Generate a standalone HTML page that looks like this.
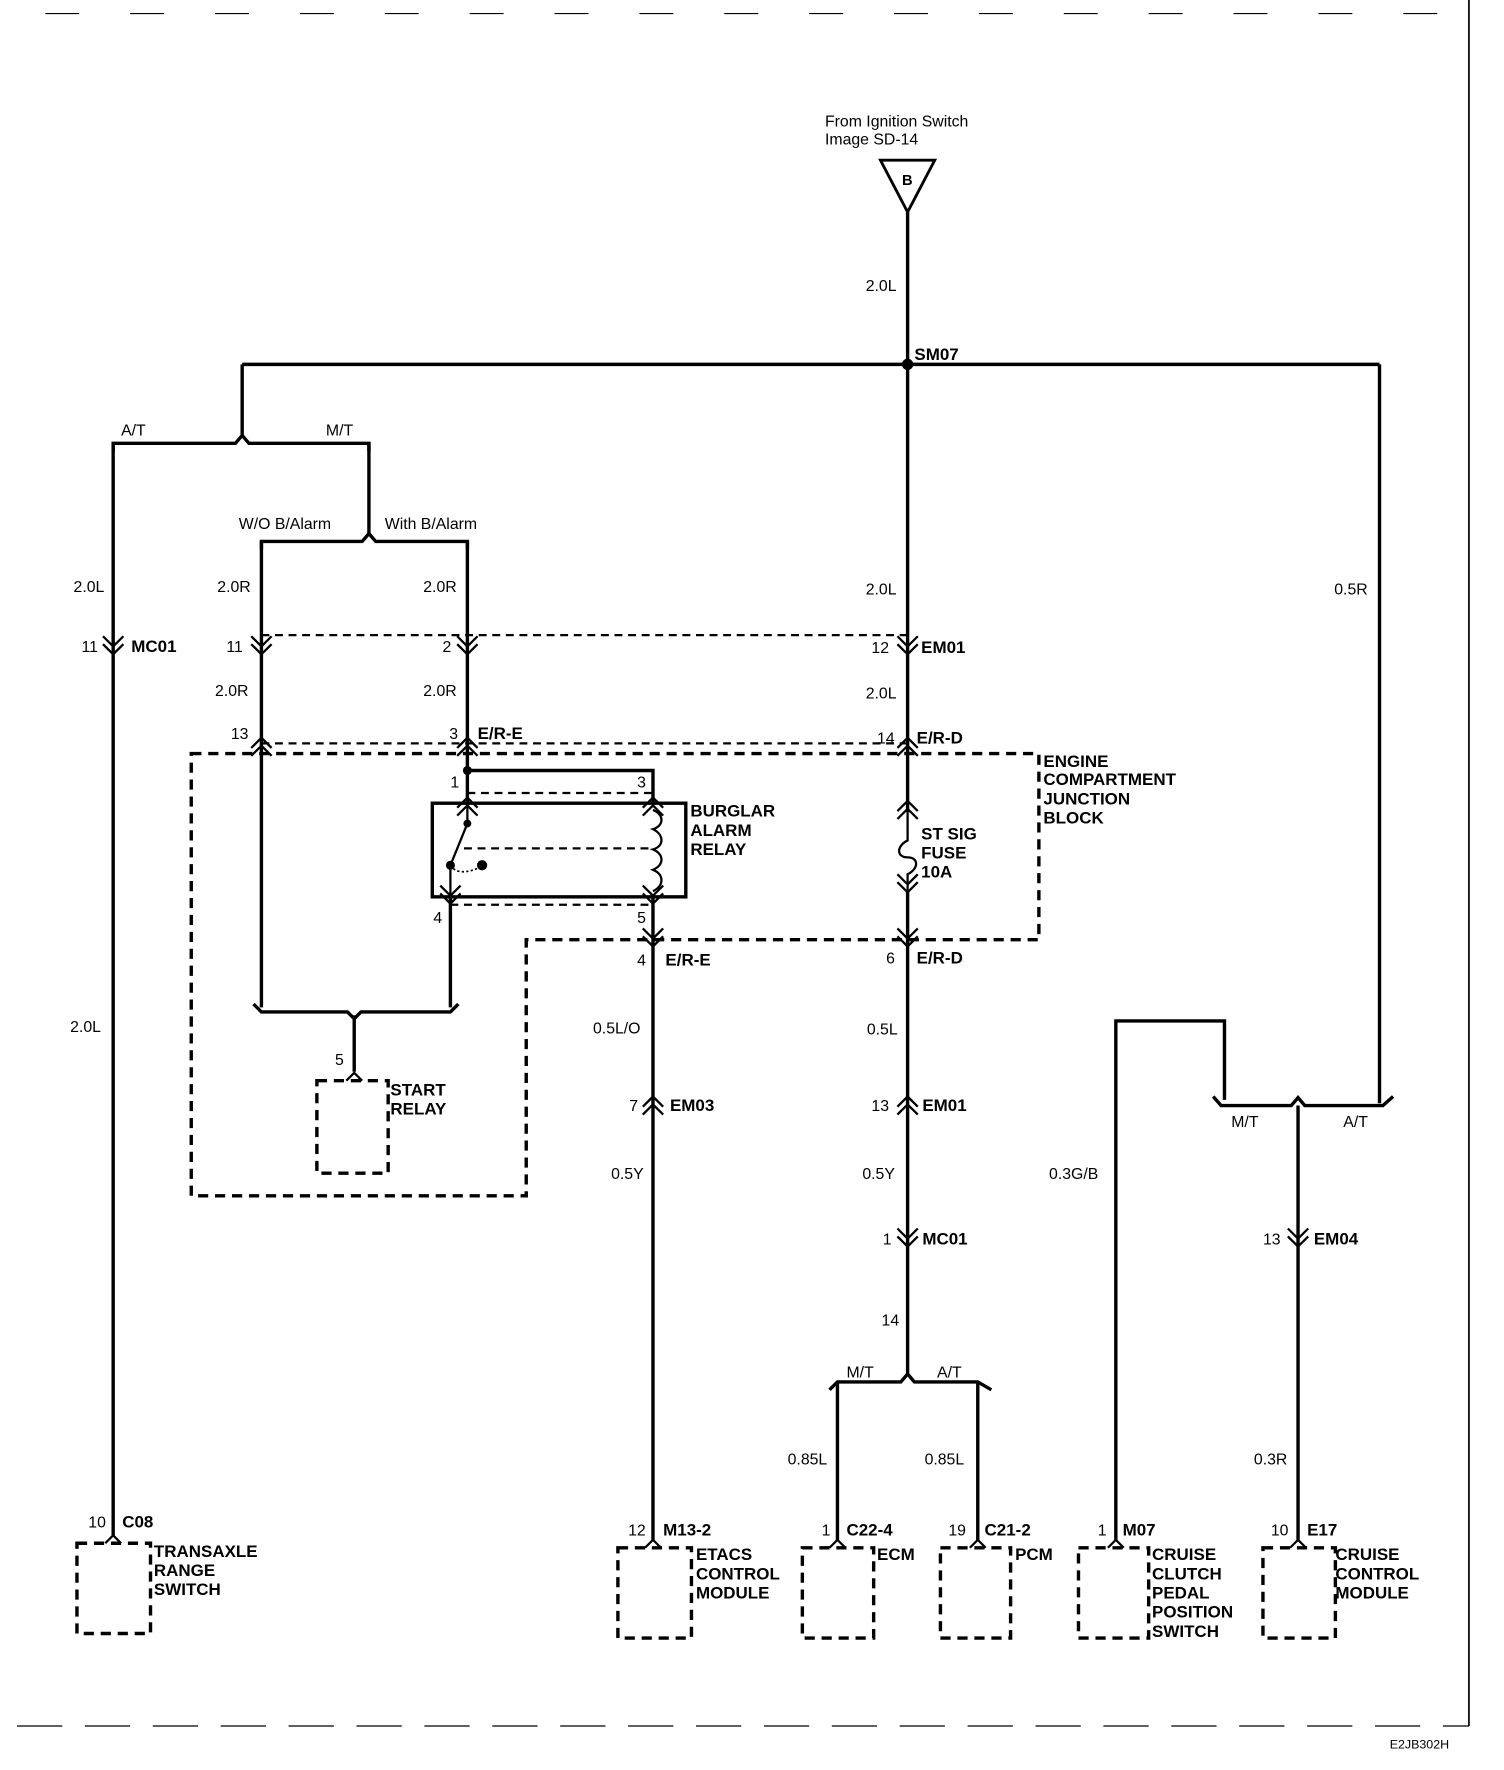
<!DOCTYPE html>
<html><head><meta charset="utf-8"><style>
html,body{margin:0;padding:0;background:#fff;}
svg{display:block;}
text{font-family:"Liberation Sans",sans-serif;font-size:14px;fill:#000;}
.b{font-weight:bold;font-size:15px;}
</style></head><body>
<svg width="1504" height="1770" viewBox="0 0 1329 1569" preserveAspectRatio="none" xmlns="http://www.w3.org/2000/svg">
<defs>
<g id="dn"><path d="M-9,-8 L0,1 L9,-8 M-9,-1 L0,8 L9,-1" fill="none" stroke="#000" stroke-width="2"/></g>
<g id="up"><path d="M-9,8 L0,-1 L9,8 M-9,1 L0,-8 L9,1" fill="none" stroke="#000" stroke-width="2"/></g>
</defs>
<g stroke="#000" fill="none">
<line x1="1298" y1="0" x2="1298" y2="1530" stroke-width="1.5"/>
<line x1="15" y1="1530" x2="1298" y2="1530" stroke-width="1.2" stroke-dasharray="40,20"/>
<line x1="40" y1="12" x2="1290" y2="12" stroke-width="1" stroke-dasharray="30,45"/>
<g stroke-width="3">
<path d="M778,142 L826,142 L802,188 Z" stroke-width="2.5"/>
<line x1="802" y1="188" x2="802" y2="565"/>
<line x1="214" y1="323" x2="1219" y2="323"/>
<line x1="214" y1="323" x2="214" y2="388"/>
<path d="M100,400 L100,393 L208,393 L214,386 L220,393 L326,393 L326,400"/>
<line x1="100" y1="393" x2="100" y2="1362"/>
<line x1="326" y1="393" x2="326" y2="474"/>
<path d="M231,487 L231,480 L320,480 L326,473 L332,480 L413,480 L413,487"/>
<line x1="231" y1="480" x2="231" y2="893"/>
<line x1="413" y1="480" x2="413" y2="712"/>
<path d="M413,683 L577,683 L577,712"/>
<rect x="382" y="712" width="224" height="83"/>
<line x1="398" y1="795" x2="398" y2="893"/>
<path d="M224,890 L231,897 L307,897 L313,903 L319,897 L398,897 L405,890"/>
<line x1="313" y1="900" x2="313" y2="950"/>
<line x1="577" y1="795" x2="577" y2="1365"/>
<line x1="802" y1="565" x2="802" y2="720"/>
<line x1="802" y1="790" x2="802" y2="1220"/>
<path d="M733,1232 L740,1225 L796,1225 L802,1218 L808,1225 L864,1225 L876,1232"/>
<line x1="740" y1="1225" x2="740" y2="1365"/>
<line x1="864" y1="1225" x2="864" y2="1365"/>
<line x1="1219" y1="323" x2="1219" y2="978"/>
<path d="M1072,972 L1079,980 L1141,980 L1147,973 L1153,980 L1222,980 L1231,972"/>
<path d="M986,1365 L986,905 L1082,905 L1082,975"/>
<line x1="1147" y1="980" x2="1147" y2="1365"/>
</g>
<path d="M802,720 L802,745 C792,750 792,760 802,760 C812,760 812,770 802,775 L802,790" stroke-width="2"/>
<g stroke-width="2" stroke-dasharray="7,5">
<line x1="231" y1="563" x2="802" y2="563"/>
<line x1="231" y1="659" x2="802" y2="659"/>
<path d="M169,668 L918,668 L918,833 L465,833 L465,1060 L169,1060 Z" stroke-width="3" stroke-dasharray="9,6"/>
<line x1="413" y1="703" x2="577" y2="703"/>
<line x1="410" y1="752" x2="577" y2="752"/>
<line x1="398" y1="802" x2="577" y2="802"/>
</g>
<g stroke-width="3" stroke-dasharray="9,6">
<rect x="280" y="958" width="63" height="82"/>
<rect x="68" y="1368" width="65" height="80"/>
<rect x="546" y="1372" width="65" height="80"/>
<rect x="709" y="1372" width="63" height="80"/>
<rect x="831" y="1372" width="62" height="80"/>
<rect x="953" y="1372" width="62" height="80"/>
<rect x="1116" y="1372" width="64" height="80"/>
</g>
<path d="M577,718 C587,722 587,732 577,735 C587,740 587,750 577,753 C587,757 587,767 577,771 C587,775 587,785 577,790" stroke-width="2"/>
<line x1="413" y1="712" x2="413" y2="730" stroke-width="2"/>
<line x1="413" y1="730" x2="398" y2="767" stroke-width="2"/>
<line x1="398" y1="767" x2="398" y2="795" stroke-width="2"/>
<path d="M398,767 Q405,778 426,768" stroke-width="1.5" stroke-dasharray="2,2"/>
</g>
<g fill="#000">
<circle cx="802" cy="323" r="5"/>
<circle cx="413" cy="683" r="4"/>
<circle cx="413" cy="730" r="3.5"/>
<circle cx="398" cy="767" r="4"/>
<circle cx="426" cy="767" r="4.5"/>
</g>
<use href="#dn" x="100" y="572"/><use href="#dn" x="231" y="572"/><use href="#dn" x="413" y="572"/><use href="#dn" x="802" y="572"/>
<use href="#up" x="231" y="662"/><use href="#up" x="413" y="662"/><use href="#up" x="802" y="662"/>
<use href="#up" x="413" y="715"/><use href="#up" x="577" y="715"/>
<use href="#dn" x="398" y="793"/><use href="#dn" x="577" y="793"/>
<use href="#up" x="802" y="718"/><use href="#dn" x="802" y="783"/>
<use href="#dn" x="577" y="831"/><use href="#dn" x="802" y="831"/>
<use href="#up" x="577" y="980"/><use href="#up" x="802" y="980"/>
<use href="#dn" x="802" y="1097"/><use href="#dn" x="1147" y="1097"/>
<path d="M306,958 L313,951 L320,958" stroke="#000" fill="none" stroke-width="2"/>
<path d="M93,1368 L100,1361 L107,1368" stroke="#000" fill="none" stroke-width="2"/>
<path d="M570,1372 L577,1365 L584,1372 M733,1372 L740,1365 L747,1372 M857,1372 L864,1365 L871,1372 M979,1372 L986,1365 L993,1372 M1140,1372 L1147,1365 L1154,1372" stroke="#000" fill="none" stroke-width="2"/>
<text x="729" y="112">From Ignition Switch</text>
<text x="729" y="128">Image SD-14</text>
<text x="797" y="164" class="b" style="font-size:13px">B</text>
<text x="765" y="258">2.0L</text>
<text x="808" y="319" class="b">SM07</text>
<text x="107" y="386">A/T</text><text x="288" y="386">M/T</text>
<text x="211" y="469">W/O B/Alarm</text><text x="340" y="469">With B/Alarm</text>
<text x="65" y="525">2.0L</text><text x="192" y="525">2.0R</text><text x="374" y="525">2.0R</text><text x="765" y="527">2.0L</text><text x="1179" y="527">0.5R</text>
<text x="72" y="578">11</text><text x="116" y="578" class="b">MC01</text>
<text x="200" y="578">11</text><text x="391" y="578">2</text>
<text x="770" y="579">12</text><text x="814" y="579" class="b">EM01</text>
<text x="190" y="617">2.0R</text><text x="374" y="617">2.0R</text><text x="765" y="619">2.0L</text>
<text x="204" y="655">13</text><text x="397" y="655">3</text><text x="422" y="655" class="b">E/R-E</text>
<text x="775" y="659">14</text><text x="810" y="659" class="b">E/R-D</text>
<text x="922" y="680" class="b">ENGINE</text><text x="922" y="696" class="b">COMPARTMENT</text><text x="922" y="713" class="b">JUNCTION</text><text x="922" y="730" class="b">BLOCK</text>
<text x="398" y="698">1</text><text x="563" y="698">3</text>
<text x="610" y="724" class="b">BURGLAR</text><text x="610" y="741" class="b">ALARM</text><text x="610" y="758" class="b">RELAY</text>
<text x="814" y="744" class="b">ST SIG</text><text x="814" y="761" class="b">FUSE</text><text x="814" y="778" class="b">10A</text>
<text x="383" y="818">4</text><text x="563" y="818">5</text>
<text x="563" y="856">4</text><text x="588" y="856" class="b">E/R-E</text>
<text x="783" y="854">6</text><text x="810" y="854" class="b">E/R-D</text>
<text x="62" y="915">2.0L</text><text x="524" y="916">0.5L/O</text><text x="766" y="917">0.5L</text>
<text x="296" y="944">5</text><text x="345" y="971" class="b">START</text><text x="345" y="988" class="b">RELAY</text>
<text x="556" y="985">7</text><text x="592" y="985" class="b">EM03</text>
<text x="770" y="985">13</text><text x="815" y="985" class="b">EM01</text>
<text x="1088" y="999">M/T</text><text x="1187" y="999">A/T</text>
<text x="540" y="1045">0.5Y</text><text x="762" y="1045">0.5Y</text><text x="927" y="1045">0.3G/B</text>
<text x="780" y="1103">1</text><text x="815" y="1103" class="b">MC01</text>
<text x="1116" y="1103">13</text><text x="1161" y="1103" class="b">EM04</text>
<text x="779" y="1175">14</text>
<text x="748" y="1221">M/T</text><text x="828" y="1221">A/T</text>
<text x="696" y="1298">0.85L</text><text x="817" y="1298">0.85L</text><text x="1108" y="1298">0.3R</text>
<text x="78" y="1354">10</text><text x="108" y="1354" class="b">C08</text>
<text x="555" y="1361">12</text><text x="586" y="1361" class="b">M13-2</text>
<text x="726" y="1361">1</text><text x="748" y="1361" class="b">C22-4</text>
<text x="838" y="1361">19</text><text x="870" y="1361" class="b">C21-2</text>
<text x="970" y="1361">1</text><text x="992" y="1361" class="b">M07</text>
<text x="1123" y="1361">10</text><text x="1155" y="1361" class="b">E17</text>
<text x="136" y="1380" class="b">TRANSAXLE</text><text x="136" y="1397" class="b">RANGE</text><text x="136" y="1414" class="b">SWITCH</text>
<text x="615" y="1383" class="b">ETACS</text><text x="615" y="1400" class="b">CONTROL</text><text x="615" y="1417" class="b">MODULE</text>
<text x="775" y="1383" class="b">ECM</text><text x="897" y="1383" class="b">PCM</text>
<text x="1018" y="1383" class="b">CRUISE</text><text x="1018" y="1400" class="b">CLUTCH</text><text x="1018" y="1417" class="b">PEDAL</text><text x="1018" y="1434" class="b">POSITION</text><text x="1018" y="1451" class="b">SWITCH</text>
<text x="1180" y="1383" class="b">CRUISE</text><text x="1180" y="1400" class="b">CONTROL</text><text x="1180" y="1417" class="b">MODULE</text>
<text x="1228" y="1550" style="font-size:11px">E2JB302H</text>
</svg>
</body></html>
